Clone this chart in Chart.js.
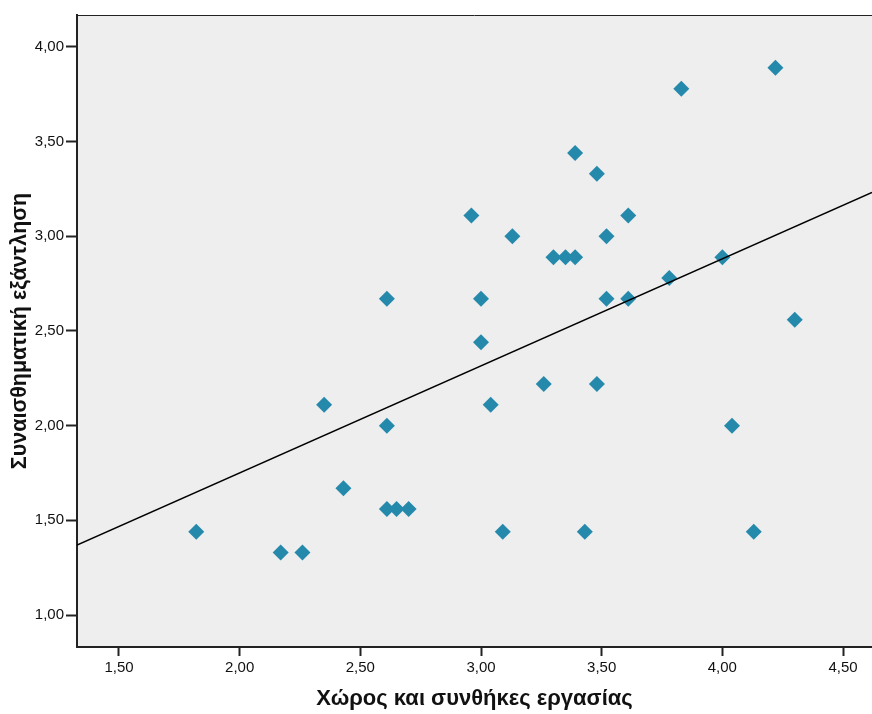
<!DOCTYPE html>
<html>
<head>
<meta charset="utf-8">
<script src="https://cdn.jsdelivr.net/npm/chart.js@4/dist/chart.umd.min.js"></script>
<style>
body{margin:0;background:#fff;}
</style>
</head>
<body>
<canvas id="grafico" width="872" height="714"></canvas>
<script>
// values
const xValues=[1.82,2.17,2.26,2.35,2.43,2.61,2.61,2.61,2.65,2.70,2.96,3.00,3.00,3.04,3.09,3.13,3.26,3.30,3.35,3.39,3.39,3.43,3.48,3.48,3.52,3.52,3.61,3.61,3.78,3.83,4.00,4.04,4.13,4.22,4.30];
const yValues=[1.44,1.33,1.33,2.11,1.67,2.67,2.00,1.56,1.56,1.56,3.11,2.67,2.44,2.11,1.44,3.00,2.22,2.89,2.89,2.89,3.44,1.44,3.33,2.22,3.00,2.67,3.11,2.67,2.78,3.78,2.89,2.00,1.44,3.89,2.56];

// fit line ends (at the edges of the plot)
const fitX=[1.326,4.62];
const fitY=[1.369,3.232];

const xTicks=[1.5,2.0,2.5,3.0,3.5,4.0,4.5];
const yTicks=[1.0,1.5,2.0,2.5,3.0,3.5,4.0];

const xTitle='Χώρος και συνθήκες εργασίας';
const yTitle='Συναισθηματική εξάντληση';

const fam='Arial, "Liberation Sans", sans-serif';
const fmt=v=>v.toFixed(2).replace('.',',');

const plotBg={
 id:'plotBg',
 beforeDraw(c){
   const a=c.chartArea,ctx=c.ctx;
   ctx.save();
   ctx.fillStyle='#eeeeee';
   ctx.fillRect(a.left,a.top,a.right-a.left,a.bottom-a.top);
   ctx.strokeStyle='#222';
   ctx.lineWidth=1;
   ctx.beginPath();
   ctx.moveTo(a.left,a.top+0.5);
   ctx.lineTo(a.right,a.top+0.5);
   ctx.stroke();
   ctx.restore();
 }
};

new Chart(document.getElementById('grafico'),{
 type:'scatter',
 data:{
   datasets:[
    {
     type:'line',
     data:fitX.map((x,i)=>({x,y:fitY[i]})),
     borderColor:'#000',
     borderWidth:1.4,
     pointRadius:0,
     fill:false,
     order:0
    },
    {
     data:xValues.map((x,i)=>({x,y:yValues[i]})),
     pointStyle:'rectRot',
     pointRadius:8,
     pointBackgroundColor:'#2589ab',
     pointBorderColor:'#2589ab',
     pointBorderWidth:0,
     order:1
    }
   ]
 },
 options:{
   responsive:false,
   animation:false,
   layout:{autoPadding:false,padding:{top:15,right:0,left:0,bottom:0}},
   plugins:{legend:{display:false},tooltip:{enabled:false}},
   scales:{
     x:{
      type:'linear',
      min:1.326,max:4.62,
      afterBuildTicks:s=>{s.ticks=xTicks.map(v=>({value:v}));},
      afterFit:s=>{s.height=67;s.paddingLeft=0;s.paddingRight=0;},
      grid:{display:true,drawOnChartArea:false,drawTicks:true,tickLength:9,tickWidth:2,tickColor:'#222'},
      border:{display:true,color:'#222',width:2},
      ticks:{color:'#111',font:{family:fam,size:15},padding:3,callback:v=>fmt(v),maxRotation:0},
      title:{display:true,text:xTitle,color:'#111',font:{family:fam,size:22,weight:'bold'},padding:{top:0,bottom:2}}
     },
     y:{
      type:'linear',
      min:0.831,max:4.169,
      afterBuildTicks:s=>{s.ticks=yTicks.map(v=>({value:v}));},
      afterFit:s=>{s.width=77;s.paddingTop=0;s.paddingBottom=0;},
      grid:{display:true,drawOnChartArea:false,drawTicks:true,tickLength:11,tickWidth:2,tickColor:'#222'},
      border:{display:true,color:'#222',width:2},
      ticks:{color:'#111',font:{family:fam,size:15},padding:2,callback:v=>fmt(v)},
      title:{display:true,text:yTitle,color:'#111',font:{family:fam,size:21.5,weight:'bold'},padding:{top:7,bottom:0}}
     }
   }
 },
 plugins:[plotBg]
});
</script>
</body>
</html>
